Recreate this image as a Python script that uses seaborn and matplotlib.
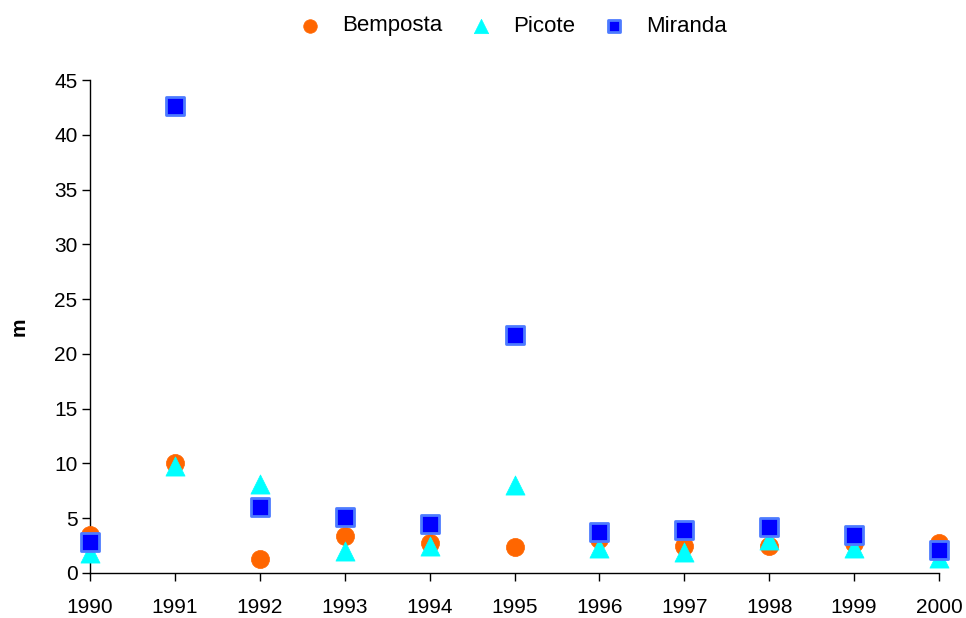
import numpy as np
import pandas as pd
import matplotlib
matplotlib.use("Agg")
import matplotlib.pyplot as plt
import seaborn as sns

years = [1990, 1991, 1992, 1993, 1994, 1995, 1996, 1997, 1998, 1999, 2000]
bemposta = [3.5, 10.0, 1.3, 3.4, 2.7, 2.4, 3.1, 2.5, 2.5, 2.7, 2.7]
picote = [1.8, 9.8, 8.1, 2.0, 2.5, 8.0, 2.3, 1.9, 3.0, 2.3, 1.4]
miranda = [2.8, 42.6, 6.0, 5.1, 4.5, 21.7, 3.7, 3.9, 4.2, 3.5, 2.1]
series_names = ["Bemposta", "Picote", "Miranda"]

df = pd.DataFrame({"ano": years, "Bemposta": bemposta, "Picote": picote, "Miranda": miranda})
long = df.melt(id_vars="ano", value_vars=series_names, var_name="barragem", value_name="m")

sns.set_theme(style="white")
plt.rcParams["font.family"] = ["Liberation Sans", "DejaVu Sans"]
plt.rcParams["text.color"] = "black"
plt.rcParams["axes.labelcolor"] = "black"

fig = plt.figure(figsize=(9.66, 6.18), dpi=100)
ax = fig.add_axes([90 / 966, 1 - 573 / 618, (939 - 90) / 966, (573 - 80) / 618])

colors = {"Bemposta": "#FF6600", "Picote": "#00FFFF", "Miranda": "#0000FF"}
markers = {"Bemposta": "o", "Picote": "^", "Miranda": "s"}
edges = {"Bemposta": "#FF6600", "Picote": "#00FFFF", "Miranda": "#4D7BFF"}
sizes = {"Bemposta": 170, "Picote": 190, "Miranda": 150}

for name in series_names:
    sub = long[long["barragem"] == name]
    sns.scatterplot(data=sub, x="ano", y="m", color=colors[name], marker=markers[name],
                    s=sizes[name], edgecolor=edges[name], linewidth=2.0 if name == "Miranda" else 0.5,
                    ax=ax, label=name, clip_on=False, zorder=3)

ax.set_xlim(1990, 2000)
ax.set_ylim(0, 45)
ax.set_xticks(years)
ax.set_xticklabels([str(y) for y in years])
ax.set_yticks(np.arange(0, 50, 5))
ax.set_xlabel("")
ax.set_ylabel("m", fontsize=15, fontweight="bold", labelpad=18)
for side in ["top", "right"]:
    ax.spines[side].set_visible(False)
for side in ["left", "bottom"]:
    ax.spines[side].set_color("black")
    ax.spines[side].set_linewidth(1.0)
ax.tick_params(axis="both", which="major", direction="out", length=6, width=1,
               colors="black", labelsize=15, left=True, bottom=True)
ax.tick_params(axis="x", pad=12)
ax.tick_params(axis="y", pad=3)
ax.grid(False)

leg = ax.legend(loc="center", bbox_to_anchor=(0.5 + 30 / 966, 1 - 26 / 618), bbox_transform=fig.transFigure,
                ncol=3, frameon=False, fontsize=16, columnspacing=1.25, handletextpad=0.95,
                handlelength=1.0, markerscale=0.75)
for t in leg.get_texts():
    t.set_color("black")

fig.savefig("out.png", dpi=100, facecolor="white")
